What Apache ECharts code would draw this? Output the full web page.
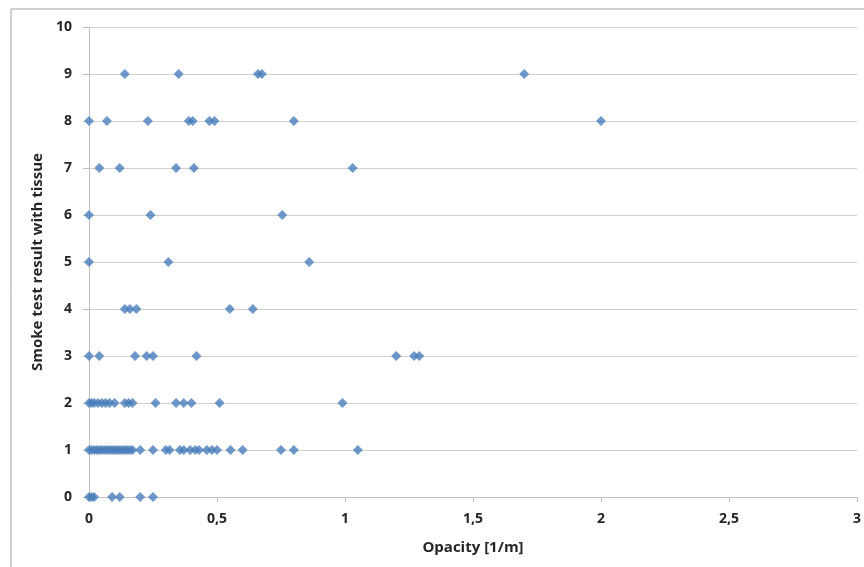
<!DOCTYPE html>
<html><head><meta charset="utf-8">
<script src="https://cdn.jsdelivr.net/npm/echarts@6/dist/echarts.min.js"></script>
<style>html,body{margin:0;padding:0;background:#fff}#c{width:864px;height:567px}</style>
</head><body><div id="c"></div>
<script>
const row0 = [0, 0.01, 0.02, 0.09, 0.12, 0.2, 0.25];
const row1 = [0, 0.01, 0.02, 0.03, 0.04, 0.05, 0.06, 0.07, 0.08, 0.09, 0.1, 0.11, 0.12, 0.13, 0.14, 0.15, 0.16, 0.17, 0.2, 0.25, 0.3, 0.315, 0.355, 0.37, 0.395, 0.415, 0.43, 0.46, 0.48, 0.5, 0.553, 0.6, 0.75, 0.8, 1.05];
const row2 = [0, 0.01, 0.02, 0.035, 0.05, 0.065, 0.08, 0.1, 0.14, 0.155, 0.17, 0.26, 0.34, 0.37, 0.4, 0.51, 0.99];
const row3 = [0, 0.04, 0.18, 0.225, 0.25, 0.42, 1.2, 1.27, 1.29];
const row4 = [0.14, 0.16, 0.185, 0.55, 0.64];
const row5 = [0, 0.31, 0.86];
const row6 = [0, 0.24, 0.755];
const row7 = [0.04, 0.12, 0.34, 0.41, 1.03];
const row8 = [0, 0.07, 0.23, 0.39, 0.405, 0.47, 0.49, 0.8, 2.0];
const row9 = [0.14, 0.35, 0.66, 0.675, 1.7];
const rows = [row0,row1,row2,row3,row4,row5,row6,row7,row8,row9];
const data = [];
rows.forEach((r,i)=>r.forEach(x=>data.push([x,i])));
const font = '"Open Sans", "DejaVu Sans", sans-serif';
const chart = echarts.init(document.getElementById('c'));
chart.setOption({
  animation:false,
  graphic:[{type:'rect',shape:{x:11,y:9,width:900,height:600},style:{fill:'none',stroke:'#a0a0a0',lineWidth:1},silent:true}],
  grid:{left:89,right:7,top:27,bottom:70},
  xAxis:{type:'value',min:0,max:3,interval:0.5,
    name:'Opacity [1/m]',nameLocation:'middle',nameGap:43,
    nameTextStyle:{fontFamily:font,fontWeight:'bold',fontSize:15,color:'#262626'},
    axisLine:{lineStyle:{color:'#bfbfbf'}},
    axisTick:{show:true,length:5,lineStyle:{color:'#bfbfbf'}},
    axisLabel:{margin:15,fontFamily:font,fontWeight:'bold',fontSize:14,color:'#262626',
      formatter:v=>String(v).replace('.',',')},
    splitLine:{show:false}},
  yAxis:{type:'value',min:0,max:10,interval:1,
    name:'Smoke test result with tissue',nameLocation:'middle',nameGap:41,
    nameTextStyle:{fontFamily:font,fontWeight:'bold',fontSize:15,color:'#262626'},
    axisLine:{show:true,lineStyle:{color:'#bfbfbf'}},
    axisTick:{show:true,length:6,lineStyle:{color:'#bfbfbf'}},
    axisLabel:{margin:17,fontFamily:font,fontWeight:'bold',fontSize:14,color:'#262626'},
    splitLine:{lineStyle:{color:'#d0d0d0'}}},
  series:[{type:'scatter',symbol:'diamond',symbolSize:10,data:data,
    itemStyle:{color:'#4a7ebb'}}]
});
</script></body></html>
